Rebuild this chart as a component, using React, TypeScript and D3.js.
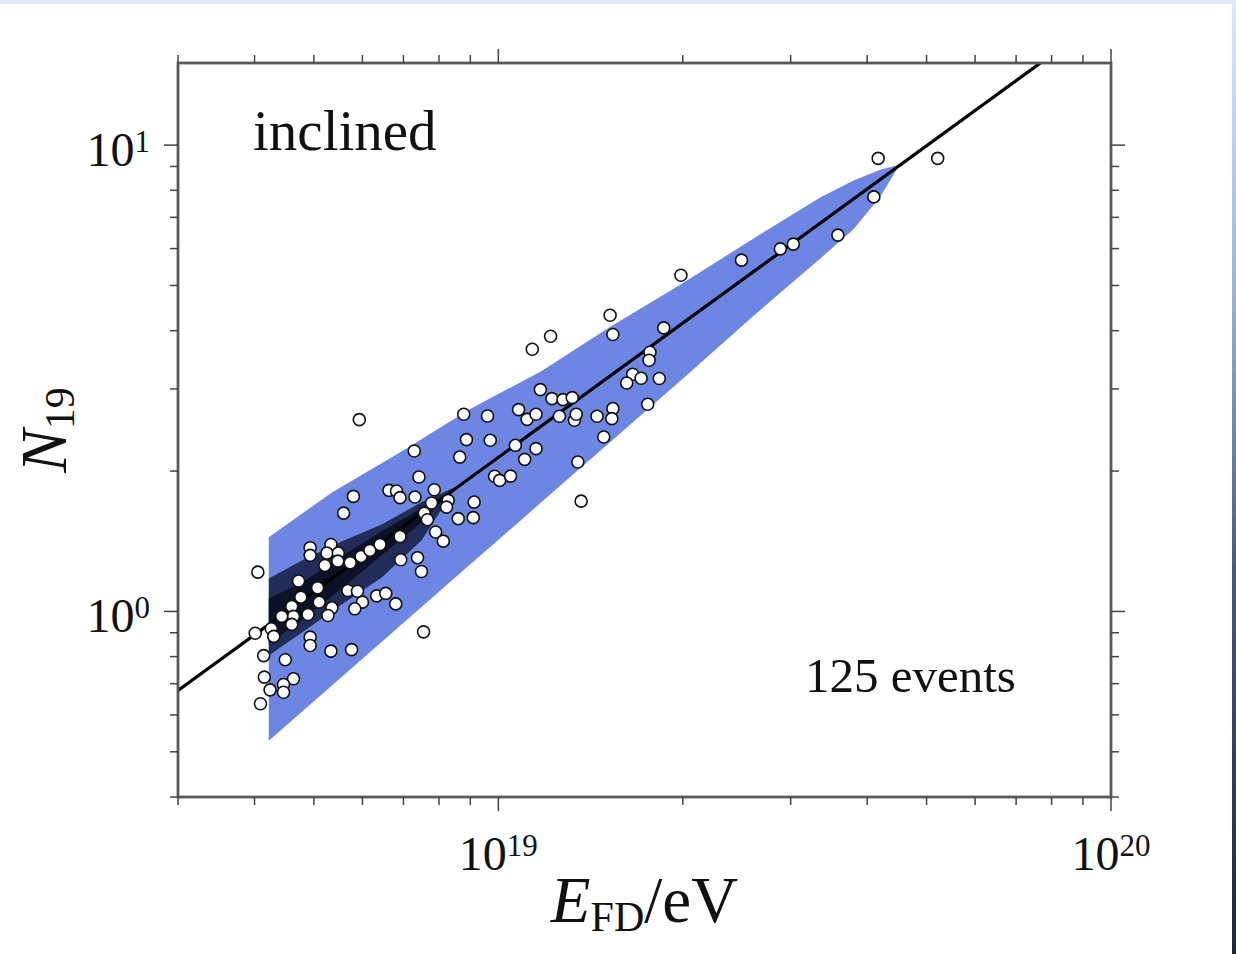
import React from "react";
import * as d3 from "d3";

// Energies in EeV (1e18 eV), N19 dimensionless
const eventE = [
  4.05, 4.93, 4.93, 5.33, 5.25, 5.48, 5.47, 5.21, 5.73, 5.97, 6.17, 4.72, 5.07, 4.76, 5.10, 4.60, 5.35, 5.27, 4.89, 4.63,
  4.43, 4.60, 5.68, 5.89, 6.00, 5.83, 4.26, 4.30, 4.01, 4.93, 4.93, 5.33, 5.76, 4.14, 4.49, 4.15, 4.63, 4.46, 4.24, 4.46,
  4.09,
  5.93, 8.78, 8.87, 8.65, 7.29, 7.42, 5.80, 5.59, 6.63, 6.82, 6.91, 7.31, 7.86, 7.78, 8.28, 8.23, 7.57, 7.66, 8.60, 9.10,
  9.13, 7.90, 8.13, 6.91, 6.41, 6.93, 7.38, 7.49, 6.33, 6.55, 6.80, 7.55,
  15.22, 15.38, 12.17, 11.36, 16.57, 16.20, 17.10, 11.71, 12.23, 12.75, 13.20, 9.60, 10.79, 11.14, 11.52, 12.58, 13.31,
  13.40, 14.49, 15.38, 15.32, 14.86, 9.70, 10.66, 11.52, 11.04, 13.48, 9.86, 10.05, 10.47, 13.65,
  41.69, 52.13, 41.01, 35.83, 30.30, 28.86, 24.94, 19.86, 18.62, 17.68, 17.62, 18.31, 17.53,
];
const eventN = [
  1.214, 1.370, 1.319, 1.392, 1.334, 1.334, 1.282, 1.255, 1.272, 1.312, 1.352, 1.162, 1.124, 1.073, 1.047, 1.025, 1.018,
  0.980, 0.985, 0.976, 0.976, 0.938, 1.109, 1.105, 1.047, 1.013, 0.918, 0.884, 0.898, 0.881, 0.845, 0.822, 0.828, 0.804,
  0.788, 0.723, 0.717, 0.697, 0.679, 0.671, 0.634,
  2.578, 2.647, 2.336, 2.143, 2.208, 1.942, 1.765, 1.625, 1.818, 1.812, 1.754, 1.759, 1.824, 1.708, 1.730, 1.674, 1.625,
  1.573, 1.581, 1.589, 1.716, 1.480, 1.415, 1.448, 1.392, 1.291, 1.304, 1.218, 1.080, 1.093, 1.038, 0.904,
  4.317, 3.925, 3.892, 3.650, 3.225, 3.090, 3.162, 2.990, 2.860, 2.846, 2.874, 2.625, 2.709, 2.582, 2.647, 2.621, 2.570,
  2.647, 2.621, 2.723, 2.591, 2.366, 2.328, 2.271, 2.234, 2.119, 2.091, 1.949, 1.910, 1.951, 1.724,
  9.365, 9.365, 7.744, 6.412, 6.133, 5.992, 5.666, 5.260, 4.055, 3.596, 3.456, 3.159, 2.782,
];

// Outer (light) band
const bandE = [4.22, 5.35, 6.95, 9.04, 11.75, 15.28, 19.87, 25.83, 33.57, 38.0, 42.0, 44.9];
const bandHigh = [1.442, 1.8, 2.204, 2.727, 3.273, 4.089, 5.031, 6.254, 7.73, 8.4, 8.85, 9.05];
const bandLow = [0.528, 0.694, 0.938, 1.268, 1.714, 2.316, 3.131, 4.254, 5.72, 6.6, 7.75, 8.95];

// Dark band
const darkE = [4.22, 4.78, 5.55, 6.45, 7.49, 8.48];
const darkHigh = [1.177, 1.286, 1.413, 1.537, 1.714, 1.845];
const darkLow = [0.804, 0.901, 1.035, 1.183, 1.42, 1.827];

// Darkest core band
const coreE = [4.22, 4.78, 5.55, 6.45, 7.49, 8.39];
const coreHigh = [1.066, 1.154, 1.312, 1.485, 1.663, 1.81];
const coreLow = [0.854, 0.957, 1.12, 1.319, 1.552, 1.81];

// Calibration fit N19 = fitA * (E / 10 EeV)^fitB
const fitA = 2.14;
const fitB = 0.956;

const xDomain = [3, 100];
const yDomain = [0.4, 15];
const xMajorLabels = [{ v: 10, exp: "19" }, { v: 100, exp: "20" }];
const yMajorLabels = [{ v: 1, exp: "0" }, { v: 10, exp: "1" }];

const W = 1236;
const H = 954;
const L = 178, R = 1111, T = 63, B = 797;

export default function App() {
  const x = d3.scaleLog().domain(xDomain).range([L, R]);
  const y = d3.scaleLog().domain(yDomain).range([B, T]);

  const mkArea = (E: number[], hi: number[], lo: number[]) =>
    d3
      .area<number>()
      .x((_, i) => x(E[i]))
      .y0((_, i) => y(lo[i]))
      .y1((_, i) => y(hi[i]))(E.map((_, i) => i)) || "";

  const lineX = x.domain();
  const lineData = lineX.map((e) => [x(e), y(fitA * Math.pow(e / 10, fitB))] as [number, number]);
  const linePath = d3.line()(lineData) || "";

  const xt = x.ticks();
  const yt = y.ticks();
  const isMajor = (v: number) => Math.abs(Math.log10(v) - Math.round(Math.log10(v))) < 1e-9;

  const serif = "'Liberation Serif', 'Times New Roman', serif";
  const frameCol = "#595959";
  const tickCol = "#444";

  return (
    <svg
      width={W}
      height={H}
      style={{ position: "absolute", left: 0, top: 0, background: "#fff" }}
      xmlns="http://www.w3.org/2000/svg"
    >
      <defs>
        <clipPath id="plotclip">
          <rect x={L} y={T} width={R - L} height={B - T} />
        </clipPath>
        <linearGradient id="edge" x1="0" y1="0" x2="0" y2="1">
          <stop offset="0" stopColor="#dce8fb" />
          <stop offset="0.3" stopColor="#9fb3d6" />
          <stop offset="0.6" stopColor="#4a5878" />
          <stop offset="1" stopColor="#1e2636" />
        </linearGradient>
      </defs>
      <rect x={0} y={0} width={W} height={H} fill="#fff" />
      <rect x={0} y={0} width={W} height={4} fill="#dfeafc" />
      <rect x={1232} y={0} width={4} height={H} fill="url(#edge)" />

      <g clipPath="url(#plotclip)">
        <path d={mkArea(bandE, bandHigh, bandLow)} fill="#6d86e4" />
        <path d={mkArea(darkE, darkHigh, darkLow)} fill="#222c58" />
        <path d={mkArea(coreE, coreHigh, coreLow)} fill="#0b1126" />
        <path d={linePath} stroke="#000" strokeWidth={3.2} fill="none" />
        {eventE.map((e, i) => (
          <circle key={i} cx={x(e)} cy={y(eventN[i])} r={6} fill="#fff" stroke="#111" strokeWidth={1.6} />
        ))}
      </g>

      {/* frame */}
      <rect x={L} y={T} width={R - L} height={B - T} fill="none" stroke={frameCol} strokeWidth={2.8} />

      {/* ticks, outward on all four sides */}
      {xt.map((v, i) => {
        const px = x(v);
        const len = isMajor(v) ? 14 : 8;
        return (
          <g key={"xt" + i} stroke={tickCol} strokeWidth={1.5}>
            <line x1={px} x2={px} y1={B} y2={B + len} />
            <line x1={px} x2={px} y1={T} y2={T - len} />
          </g>
        );
      })}
      {yt.map((v, i) => {
        const py = y(v);
        const len = isMajor(v) ? 14 : 8;
        return (
          <g key={"yt" + i} stroke={tickCol} strokeWidth={1.5}>
            <line x1={L} x2={L - len} y1={py} y2={py} />
            <line x1={R} x2={R + len} y1={py} y2={py} />
          </g>
        );
      })}

      {/* tick labels */}
      {xMajorLabels.map((t) => (
        <text key={"xl" + t.v} x={x(t.v)} y={870} textAnchor="middle" fontFamily={serif} fontSize={48} fill="#111">
          10
          <tspan fontSize={31} dy={-14}>
            {t.exp}
          </tspan>
        </text>
      ))}
      {yMajorLabels.map((t) => (
        <text key={"yl" + t.v} x={150} y={y(t.v) + 21} textAnchor="end" fontFamily={serif} fontSize={48} fill="#111">
          10
          <tspan fontSize={31} dy={-14}>
            {t.exp}
          </tspan>
        </text>
      ))}

      {/* axis titles */}
      <text x={(L + R) / 2} y={922} textAnchor="middle" fontFamily={serif} fontSize={65} fill="#111">
        <tspan fontStyle="italic">E</tspan>
        <tspan fontSize={42} dy={9}>
          FD
        </tspan>
        <tspan dy={-9}>/eV</tspan>
      </text>
      <text
        transform={`translate(66, ${(T + B) / 2}) rotate(-90)`}
        textAnchor="middle"
        fontFamily={serif}
        fontSize={65}
        fill="#111"
      >
        <tspan fontStyle="italic">N</tspan>
        <tspan fontSize={42} dy={8}>
          19
        </tspan>
      </text>

      <text x={253} y={150} fontFamily={serif} fontSize={57} fill="#111">
        inclined
      </text>
      <text x={805} y={692} fontFamily={serif} fontSize={49} fill="#111">
        125 events
      </text>
    </svg>
  );
}
